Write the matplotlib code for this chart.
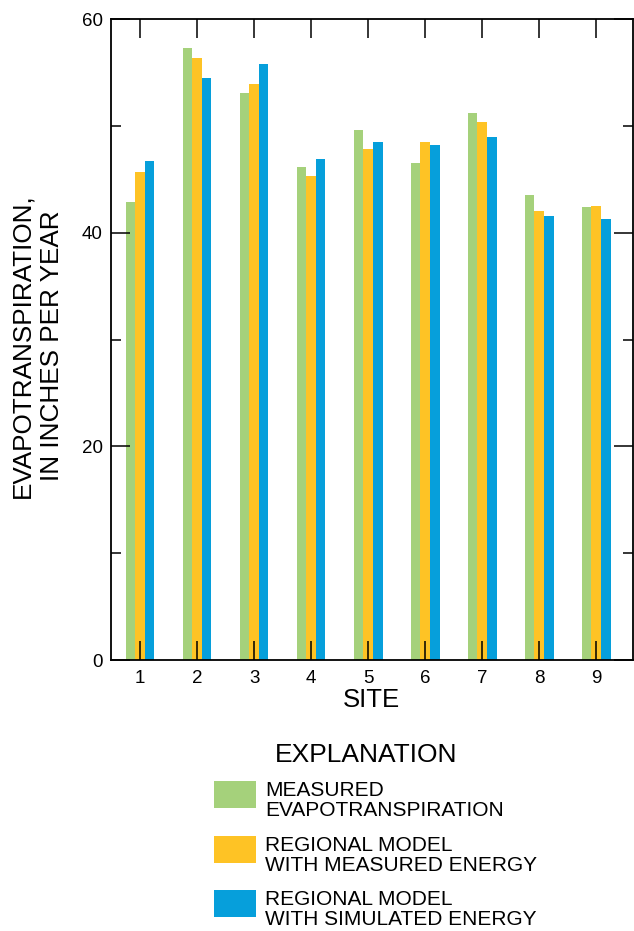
import matplotlib
matplotlib.use("Agg")
import matplotlib.pyplot as plt
from matplotlib.patches import Rectangle
import numpy as np

plt.rcParams['font.family'] = ['Liberation Sans', 'DejaVu Sans']

# values (inches per year)
sites = [1, 2, 3, 4, 5, 6, 7, 8, 9]
measured = [42.9, 57.3, 53.1, 46.2, 49.6, 46.5, 51.2, 43.5, 42.4]
model_measured_energy = [45.7, 56.4, 53.9, 45.3, 47.8, 48.5, 50.4, 42.0, 42.5]
model_simulated_energy = [46.7, 54.5, 55.8, 46.9, 48.5, 48.2, 49.0, 41.6, 41.3]

series_names = ['MEASURED\nEVAPOTRANSPIRATION',
                'REGIONAL MODEL\nWITH MEASURED ENERGY',
                'REGIONAL MODEL\nWITH SIMULATED ENERGY']
colors = ['#a5d17b', '#fec325', '#069fdb']

fig = plt.figure(figsize=(6.34, 9.31), dpi=100)
ax = fig.add_axes([0.175, 0.291, 0.823, 0.6885])

x = np.array(sites)
w = 0.168
for i, vals in enumerate([measured, model_measured_energy, model_simulated_energy]):
    ax.bar(x + (i - 1) * w, vals, width=w, color=colors[i], linewidth=0, zorder=1)

ax.set_xlim(0.49, 9.64)
ax.set_ylim(0, 60)
ax.set_xticks(sites)
ax.set_yticks([0, 20, 40, 60])
ax.set_yticks([10, 30, 50], minor=True)
ax.tick_params(axis='both', which='major', direction='in', top=True, right=True,
               length=14, width=1.1, labelsize=13.5, pad=6)
ax.tick_params(axis='y', which='minor', direction='in', right=True, left=True,
               length=7, width=1.1)
ax.tick_params(axis='x', which='major', pad=7)
for s in ax.spines.values():
    s.set_linewidth(1.3)
    s.set_zorder(3)

ax.set_xlabel('SITE', fontsize=18.5, labelpad=1)
fig.text(0.059, 1 - 346 / 931, 'EVAPOTRANSPIRATION,\nIN INCHES PER YEAR',
         rotation=90, ha='center', va='center', multialignment='center',
         fontsize=18.8, linespacing=1.3)

# explanation block
fig.text(366 / 634, 1 - 755 / 931, 'EXPLANATION', ha='center', va='center', fontsize=19)
box_tops = [781, 836, 890]
for name, c, top in zip(series_names, colors, box_tops):
    fig.patches.append(Rectangle((214 / 634, 1 - (top + 27) / 931), 42 / 634, 27 / 931,
                                 transform=fig.transFigure, color=c, linewidth=0))
    fig.text(265 / 634, 1 - (top + 19.5) / 931, name, ha='left', va='center',
             fontsize=15, linespacing=1.02)

fig.savefig('out.png', dpi=100)
